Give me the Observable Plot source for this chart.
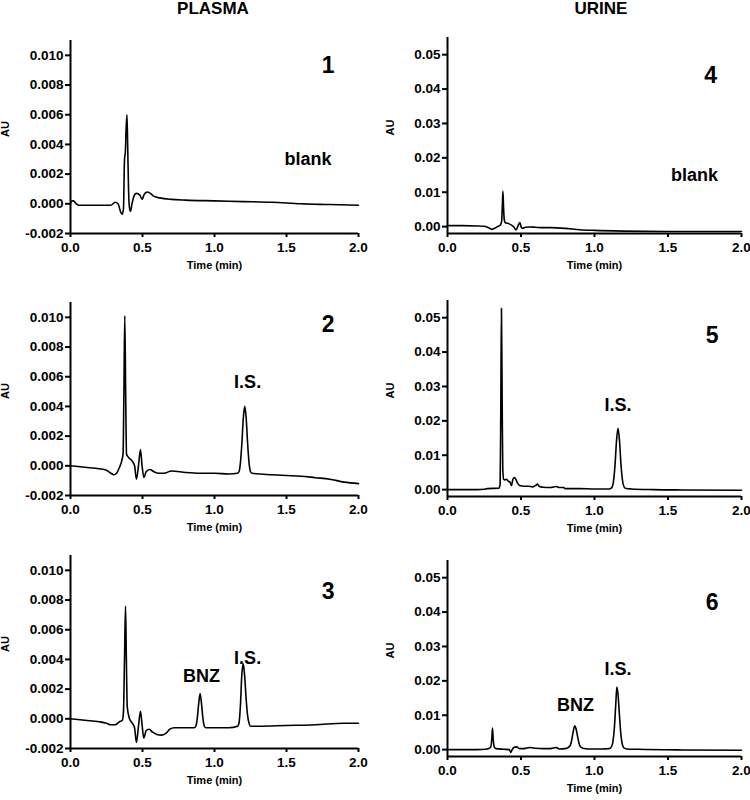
<!DOCTYPE html>
<html><head><meta charset="utf-8">
<script src="https://cdn.jsdelivr.net/npm/d3@7"></script>
<script src="https://cdn.jsdelivr.net/npm/@observablehq/plot@0.6"></script>
<style>
body{margin:0;background:#fff;}
#chart{position:relative;width:750px;height:800px;font-family:"Liberation Sans",Arial,sans-serif;color:#000;}
.title{position:absolute;top:0;width:200px;text-align:center;font-weight:bold;font-size:17px;line-height:18px;}
.panel{position:absolute;}
#chart svg g[aria-label^="x-axis"] line, #chart svg g[aria-label^="x-axis"] path,
#chart svg g[aria-label^="y-axis"] line, #chart svg g[aria-label^="y-axis"] path{stroke-width:2;}
</style></head><body><div id="chart"></div>
<script>
// ---- text ----
const columnTitles = ["PLASMA", "URINE"];
const xLabel = "Time (min)";
const yLabel = "AU";
const panelNumbers = ["1", "2", "3", "4", "5", "6"];

// ---- ticks ----
const xTicks = [0, 0.5, 1.0, 1.5, 2.0];
const plasmaTicks = [-0.002, 0, 0.002, 0.004, 0.006, 0.008, 0.010];
const urineTicks = [0, 0.01, 0.02, 0.03, 0.04, 0.05];
const plasmaDomain = [-0.002, 0.011];
const urineDomain = [-0.002, 0.055];

// ---- traces: [time (min), AU] ----
const plasmaBlank = [[0,0],[0.01,0.0002],[0.02,0.0002],[0.04,0],[0.06,-0.0001],[0.1,-0.0001],[0.2,-0.0001],[0.28,-0.0001],[0.31,0.0001],[0.33,0],[0.35,-0.0006],[0.36,-0.0007],[0.368,-0.0003],[0.375,0.003],[0.381,0.0035],[0.386,0.005],[0.392,0.006],[0.397,0.004],[0.403,0.001],[0.41,-0.0003],[0.417,-0.0005],[0.425,-0.0001],[0.44,0.0005],[0.458,0.0007],[0.48,0.0006],[0.498,0.0003],[0.51,0.0006],[0.532,0.0008],[0.555,0.0007],[0.58,0.0005],[0.62,0.0004],[0.7,0.0003],[0.8,0.00025],[1.0,0.0002],[1.2,0.00015],[1.4,0.0001],[1.6,0],[1.8,-0.00005],[2.0,-0.0001]];
const plasmaIS = [[0,0],[0.1,-0.0001],[0.2,-0.0002],[0.25,-0.0003],[0.28,-0.0005],[0.3,-0.0006],[0.32,-0.0005],[0.34,-0.0001],[0.355,0.0003],[0.365,0.0008],[0.371,0.005],[0.377,0.0101],[0.383,0.005],[0.389,0.0008],[0.4,0.0006],[0.43,0.0003],[0.445,0],[0.458,-0.0009],[0.472,0],[0.486,0.0011],[0.497,0],[0.51,-0.0008],[0.525,-0.0004],[0.55,-0.00025],[0.58,-0.0004],[0.61,-0.0005],[0.65,-0.0005],[0.7,-0.00035],[0.8,-0.00045],[0.9,-0.0005],[1.0,-0.0005],[1.1,-0.00055],[1.16,-0.0005],[1.17,-0.0004],[1.18,0.0002],[1.19,0.0015],[1.2,0.0032],[1.21,0.004],[1.22,0.0032],[1.23,0.0015],[1.24,0.0002],[1.25,-0.0004],[1.26,-0.0005],[1.4,-0.0006],[1.5,-0.00065],[1.6,-0.0007],[1.7,-0.0008],[1.8,-0.0009],[1.9,-0.0011],[2.0,-0.0012]];
const plasmaBNZ = [[0,0],[0.1,-0.0001],[0.2,-0.0002],[0.25,-0.0003],[0.28,-0.0004],[0.31,-0.0004],[0.34,-0.0002],[0.36,-0.0001],[0.368,0.0005],[0.375,0.004],[0.382,0.0076],[0.388,0.004],[0.394,0.0008],[0.41,0],[0.43,-0.0003],[0.445,-0.0006],[0.458,-0.0016],[0.472,-0.0005],[0.486,0.0005],[0.497,-0.0004],[0.509,-0.0013],[0.525,-0.0008],[0.545,-0.0007],[0.57,-0.0009],[0.6,-0.00105],[0.63,-0.0011],[0.66,-0.001],[0.69,-0.0007],[0.72,-0.0006],[0.8,-0.0006],[0.86,-0.0006],[0.87,-0.0005],[0.88,0],[0.89,0.001],[0.9,0.0017],[0.91,0.001],[0.92,0],[0.93,-0.0005],[0.94,-0.0006],[1.0,-0.0006],[1.1,-0.0006],[1.16,-0.0005],[1.17,-0.0003],[1.18,0.0009],[1.19,0.003],[1.2,0.0037],[1.21,0.0028],[1.22,0.0013],[1.23,0.0002],[1.24,-0.0003],[1.25,-0.0005],[1.3,-0.0005],[1.5,-0.00045],[1.7,-0.0004],[1.9,-0.0003],[2.0,-0.0003]];
const urineBlank = [[0,0.0003],[0.1,0.0003],[0.2,0.0002],[0.25,0.0001],[0.28,-0.0003],[0.3,-0.0008],[0.32,-0.0005],[0.34,0],[0.36,0.0005],[0.368,0.0015],[0.373,0.006],[0.377,0.0103],[0.381,0.006],[0.386,0.002],[0.392,0.0012],[0.42,0.0008],[0.44,0.0003],[0.455,-0.0003],[0.465,-0.001],[0.478,0],[0.492,0.0012],[0.502,-0.0002],[0.51,-0.0005],[0.53,-0.0002],[0.56,-0.0001],[0.6,-0.0002],[0.65,-0.0003],[0.7,-0.0003],[0.8,-0.0005],[0.9,-0.0009],[1.0,-0.0011],[1.2,-0.0013],[1.5,-0.0014],[2.0,-0.0014]];
const urineIS = [[0,0],[0.1,0],[0.2,0],[0.25,0.0001],[0.27,0.0003],[0.35,0.0004],[0.358,0.0015],[0.362,0.02],[0.367,0.0527],[0.372,0.025],[0.376,0.006],[0.382,0.003],[0.39,0.0028],[0.4,0.003],[0.415,0.0024],[0.425,0.0022],[0.435,0.0012],[0.445,0.003],[0.455,0.0035],[0.465,0.003],[0.475,0.002],[0.49,0.0012],[0.52,0.001],[0.55,0.001],[0.58,0.0008],[0.6,0.0012],[0.612,0.0016],[0.625,0.0009],[0.65,0.0007],[0.7,0.0006],[0.74,0.0009],[0.76,0.0006],[0.79,0.0006],[0.8,0.0003],[0.9,0.0003],[1.0,0.0002],[1.1,0.0002],[1.11,0.0003],[1.12,0.0007],[1.13,0.0026],[1.14,0.0074],[1.15,0.0143],[1.16,0.0178],[1.17,0.0143],[1.18,0.0074],[1.19,0.0028],[1.2,0.0009],[1.21,0.0004],[1.25,0.0002],[1.4,0],[1.6,-0.0001],[2.0,-0.0002]];
const urineBNZ = [[0,0],[0.1,0],[0.2,0],[0.26,0.0001],[0.28,0.0003],[0.295,0.0008],[0.301,0.003],[0.306,0.0063],[0.311,0.003],[0.318,0.0008],[0.33,0.0003],[0.38,0.0001],[0.42,0],[0.431,-0.0008],[0.44,0],[0.45,0.0006],[0.47,0.0008],[0.49,0.0003],[0.52,0.0003],[0.56,0.0006],[0.6,0.0004],[0.65,0.0003],[0.7,0.0003],[0.74,0.0006],[0.76,0.0002],[0.8,0.0003],[0.82,0.0006],[0.835,0.0012],[0.845,0.0028],[0.855,0.0052],[0.866,0.0069],[0.875,0.006],[0.885,0.0038],[0.895,0.0018],[0.905,0.0008],[0.92,0.0004],[0.96,0.0002],[1.05,0.0002],[1.1,0.0003],[1.115,0.0008],[1.125,0.0022],[1.135,0.0062],[1.145,0.0135],[1.152,0.0182],[1.16,0.016],[1.17,0.0098],[1.18,0.0042],[1.19,0.0014],[1.2,0.0005],[1.22,0.0002],[1.3,0.0001],[1.6,-0.0001],[2.0,-0.0002]];

// ---- annotations: label, time, AU ----
const numberPos = [[1.79,0.0093],[1.79,0.0095],[1.79,0.0086],[1.79,0.0439],[1.80,0.0448],[1.80,0.0427]];
const peakLabels = [
  [["blank",1.65,0.0030]],
  [["I.S.",1.23,0.0056]],
  [["BNZ",0.91,0.0029],["I.S.",1.23,0.0041]],
  [["blank",1.68,0.0148]],
  [["I.S.",1.16,0.0244]],
  [["BNZ",0.87,0.0128],["I.S.",1.16,0.0235]]
];

const chart = document.getElementById("chart");
const font = "'Liberation Sans', Arial, sans-serif";

// titles
[[113, columnTitles[0]], [501, columnTitles[1]]].forEach(([left, t]) => {
  const d = document.createElement("div");
  d.className = "title"; d.style.left = left + "px"; d.textContent = t;
  chart.appendChild(d);
});

const traces = [plasmaBlank, plasmaIS, plasmaBNZ, urineBlank, urineIS, urineBNZ];
// layout: [svgLeft, svgTop, marginTop, marginBottom]
const layout = [
  [0, 20, 20, 47], [0, 280, 22, 45], [0, 540, 15, 52],
  [375, 20, 17, 47], [375, 280, 20, 44], [375, 540, 20, 44]
];

traces.forEach((data, i) => {
  const plasma = i < 3;
  const [left, top, mt, mb] = layout[i];
  const svg = Plot.plot({
    width: 375, height: 260,
    marginLeft: plasma ? 70 : 72,
    marginRight: plasma ? 17 : 9,
    marginTop: mt, marginBottom: mb,
    style: {background: "transparent", fontFamily: font, fontSize: "13.5px", fontWeight: "bold", color: "black", overflow: "visible"},
    x: {domain: [0, 2], ticks: xTicks, tickFormat: d => d.toFixed(1), tickSize: 4, tickPadding: 5, label: null},
    y: {domain: plasma ? plasmaDomain : urineDomain, ticks: plasma ? plasmaTicks : urineTicks,
        tickFormat: d => d.toFixed(plasma ? 3 : 2), tickSize: 5, tickPadding: 2, label: null},
    marks: [
      Plot.ruleX([0], {stroke: "black", strokeWidth: 2}),
      Plot.ruleY([plasma ? plasmaDomain[0] : urineDomain[0]], {stroke: "black", strokeWidth: 2}),
      Plot.line(data, {x: d => d[0], y: d => d[1], stroke: "black", strokeWidth: 1.6, curve: "monotone-x"}),
      Plot.text(peakLabels[i], {x: d => d[1], y: d => d[2], text: d => d[0], fontSize: 18, fontWeight: "bold", fill: "black"}),
      Plot.text([numberPos[i]], {x: d => d[0], y: d => d[1], text: () => panelNumbers[i], fontSize: 23, fontWeight: "bold", fill: "black"}),
      Plot.text([xLabel], {frameAnchor: "bottom", dy: 35, text: d => d, fontSize: 11, fontWeight: "bold", fill: "black"}),
      Plot.text([yLabel], {frameAnchor: "left", dx: plasma ? -65 : -57, rotate: -90, text: d => d, fontSize: 11, fontWeight: "bold", fill: "black"})
    ]
  });
  svg.classList.add("panel");
  svg.style.position = "absolute";
  svg.style.left = left + "px";
  svg.style.top = top + "px";
  chart.appendChild(svg);
});
</script>
</body></html>
